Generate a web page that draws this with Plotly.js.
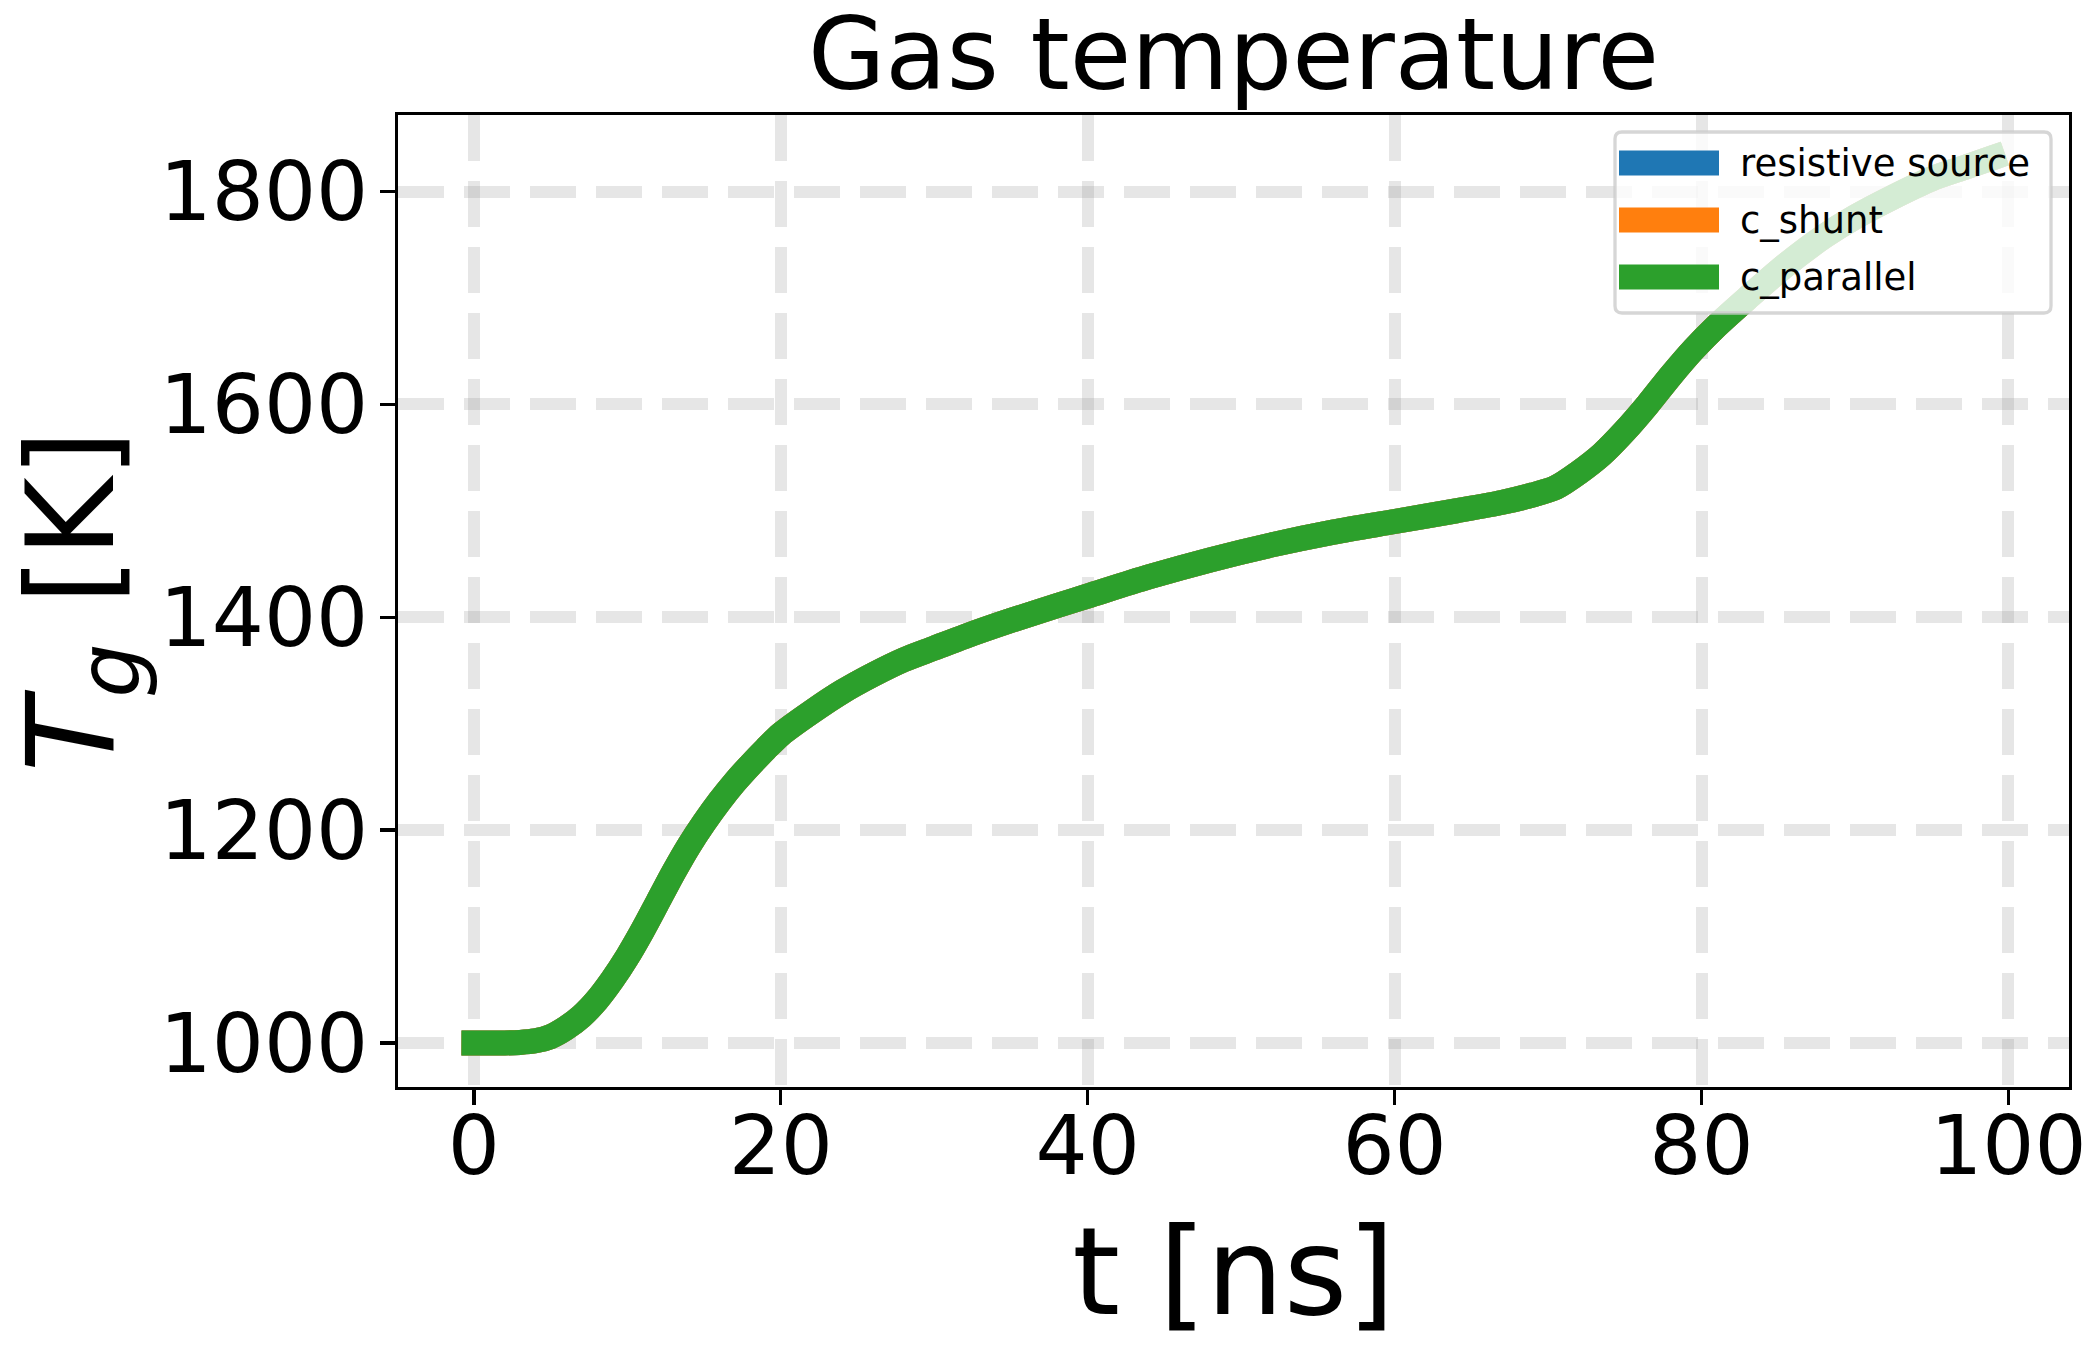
<!DOCTYPE html>
<html>
<head>
<meta charset="utf-8">
<script src="https://cdn.plot.ly/plotly-3.0.1.min.js"></script>
<style>
  body { margin: 0; background: #fff; }
  .scatterlayer .js-line { stroke-linecap: square; stroke-linejoin: round; }
</style>
</head>
<body>
<div id="chart" style="width:2100px;height:1350px;"></div>
<script>
// time axis [ns] and gas temperature [K]
var t = [0, 2, 3, 4, 5, 6, 7, 8, 9, 10, 11, 12, 13, 14, 15, 16, 17, 18, 19, 20,
         22, 24, 26, 28, 30, 32, 35, 38, 40, 44, 48, 52, 56, 60, 64, 67, 69,
         70.5, 72, 73.5, 75, 76.5, 78, 79.5, 81, 83, 85.5, 88, 90, 92.5, 95, 97, 99];
var Tg = [1000, 1000, 1000.5, 1002, 1006, 1014, 1025, 1040, 1059, 1081, 1106, 1133, 1160, 1185, 1207, 1227, 1245, 1261, 1276, 1290,
          1311, 1330, 1346, 1360, 1371, 1382, 1397, 1411, 1420, 1438, 1454, 1468, 1480, 1490, 1500, 1508, 1515,
          1522, 1536, 1553, 1575, 1600, 1627, 1652, 1674, 1700, 1731, 1758, 1776, 1795, 1812, 1822, 1832];

var seriesNames = ['resistive source', 'c_shunt', 'c_parallel'];
var seriesColors = ['#1f77b4', '#ff7f0e', '#2ca02c'];

var xTicks = [0, 20, 40, 60, 80, 100];
var yTicks = [1000, 1200, 1400, 1600, 1800];

var font = 'DejaVu Sans';

var traces = seriesNames.map(function(name, i) {
  return {
    x: t,
    y: Tg,
    name: name,
    type: 'scatter',
    mode: 'lines',
    line: {color: seriesColors[i], width: 25, shape: 'spline', smoothing: 0.8},
    showlegend: false,
    hoverinfo: 'skip'
  };
});

// plot area in pixels, used to place the hand made legend
var L = 398, R = 2069, TOP = 115, BOT = 1087;
function px(X) { return (X - L) / (R - L); }
function py(Y) { return (BOT - Y) / (BOT - TOP); }

var bx0 = 1615, bx1 = 2051, by0 = 132, by1 = 313, rad = 7;
var rx = rad / (R - L), ry = rad / (BOT - TOP);
var boxPath = 'M' + (px(bx0) + rx) + ',' + py(by0) +
  ' L' + (px(bx1) - rx) + ',' + py(by0) +
  ' Q' + px(bx1) + ',' + py(by0) + ' ' + px(bx1) + ',' + (py(by0) - ry) +
  ' L' + px(bx1) + ',' + (py(by1) + ry) +
  ' Q' + px(bx1) + ',' + py(by1) + ' ' + (px(bx1) - rx) + ',' + py(by1) +
  ' L' + (px(bx0) + rx) + ',' + py(by1) +
  ' Q' + px(bx0) + ',' + py(by1) + ' ' + px(bx0) + ',' + (py(by1) + ry) +
  ' L' + px(bx0) + ',' + (py(by0) - ry) +
  ' Q' + px(bx0) + ',' + py(by0) + ' ' + (px(bx0) + rx) + ',' + py(by0) + ' Z';

var shapes = [{
  type: 'path', xref: 'paper', yref: 'paper', layer: 'above',
  path: boxPath,
  fillcolor: 'rgba(255,255,255,0.8)',
  line: {color: 'rgba(204,204,204,0.8)', width: 3.3}
}];
var annotations = [];
var rowY = [163, 220, 277];
seriesNames.forEach(function(name, i) {
  shapes.push({
    type: 'line', xref: 'paper', yref: 'paper', layer: 'above',
    x0: px(1619), x1: px(1719), y0: py(rowY[i]), y1: py(rowY[i]),
    line: {color: seriesColors[i], width: 25}
  });
  annotations.push({
    xref: 'paper', yref: 'paper', x: px(1738), y: py(rowY[i]),
    xanchor: 'left', yanchor: 'middle', showarrow: false,
    text: name,
    font: {family: font, size: 37, color: '#000'}
  });
});

var layout = {
  width: 2100,
  height: 1350,
  paper_bgcolor: '#fff',
  plot_bgcolor: '#fff',
  margin: {l: L, r: 2100 - R, t: TOP, b: 1350 - BOT, pad: 0},
  title: {
    text: 'Gas temperature',
    font: {family: font, size: 100, color: '#000'},
    x: 0.5 * (L + R) / 2100, xanchor: 'center', xref: 'container',
    y: 1 - 54 / 1350, yanchor: 'middle', yref: 'container'
  },
  xaxis: {
    range: [-4.95, 103.95],
    tickvals: xTicks,
    ticktext: xTicks.map(String),
    ticks: 'outside', ticklen: 15, tickwidth: 3.3, tickcolor: '#000',
    ticklabelstandoff: -30,
    tickfont: {family: font, size: 82, color: '#000'},
    showline: true, mirror: true, linecolor: '#000', linewidth: 3.3,
    showgrid: true, gridcolor: 'rgba(128,128,128,0.2)', gridwidth: 12, griddash: '46px,20px',
    zeroline: false,
    automargin: false,
    title: {text: 't [ns]', font: {family: font, size: 122, color: '#000'}, standoff: 38}
  },
  yaxis: {
    range: [958.6, 1872],
    tickvals: yTicks,
    ticktext: yTicks.map(String),
    ticks: 'outside', ticklen: 15, tickwidth: 3.3, tickcolor: '#000',
    ticklabelstandoff: -5,
    tickfont: {family: font, size: 82, color: '#000'},
    showline: true, mirror: true, linecolor: '#000', linewidth: 3.3,
    showgrid: true, gridcolor: 'rgba(128,128,128,0.2)', gridwidth: 12, griddash: '46px,20px',
    zeroline: false,
    automargin: false,
    title: {text: '<i>T</i><sub><i>g</i></sub> [K]', font: {family: font, size: 122, color: '#000'}, standoff: 40}
  },
  shapes: shapes,
  annotations: annotations
};

Plotly.newPlot('chart', traces, layout, {staticPlot: true});
</script>
</body>
</html>
